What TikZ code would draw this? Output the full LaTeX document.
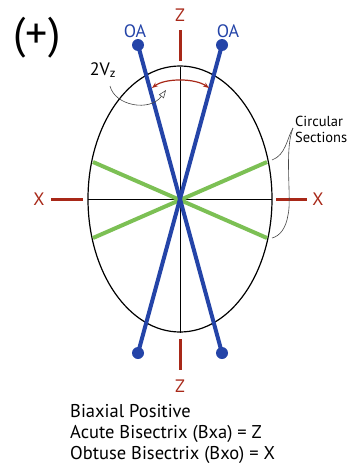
\documentclass[tikz,border=0pt]{standalone}
\usepackage{fontspec}
\setmainfont{PT Sans}
\usetikzlibrary{arrows.meta}
\definecolor{oablue}{RGB}{36,68,168}
\definecolor{axisred}{RGB}{168,40,24}
\definecolor{secgreen}{RGB}{124,192,84}
\definecolor{pointergray}{RGB}{70,70,70}

\begin{document}
\begin{tikzpicture}[x=1pt, y=-1pt,
  axisline/.style={axisred, line width=3pt},
  axislabel/.style={text=axisred, font=\fontsize{18}{18}\selectfont, inner sep=0pt},
  opticaxis/.style={oablue, line width=4pt},
  oadot/.style={circle, fill=oablue, inner sep=0pt, minimum size=12pt},
  oalabel/.style={text=oablue, font=\fontsize{18}{18}\selectfont, inner sep=0pt},
  circsection/.style={secgreen, line width=4pt},
  caption/.style={font=\fontsize{18.5}{18.5}\selectfont, inner sep=0pt, anchor=base west}]
  \useasboundingbox (0,0) rectangle (353,463);
  % Indicatrix outline and principal sections
  \coordinate (ctr) at (180,199);
  \draw[line width=1.2pt] (ctr) ellipse [x radius=92, y radius=133];
  \draw[line width=0.8pt] (180,67) -- (180,333);
  \draw[line width=0.8pt] (88,199) -- (272,199);
  % Circular sections
  \coordinate (cs1) at (93,162);
  \coordinate (cs2) at (267,238);
  \coordinate (cs3) at (93,238);
  \coordinate (cs4) at (267,162);
  \draw[circsection] (cs1) -- (cs2);
  \draw[circsection] (cs3) -- (cs4);
  % Optic axes
  \node[oadot] (oatl) at (138,45) {};
  \node[oadot] (oatr) at (222,45) {};
  \node[oadot] (oabl) at (138,353) {};
  \node[oadot] (oabr) at (222,353) {};
  \draw[opticaxis] (oatl.center) -- (oabr.center);
  \draw[opticaxis] (oatr.center) -- (oabl.center);
  \node[oalabel] (oal) at (135,31) {OA};
  \node[oalabel] (oar) at (228,31) {OA};
  % Z and X directions
  \draw[axisline] (180,30) -- (180,61);
  \draw[axisline] (180,339) -- (180,370);
  \draw[axisline] (51,199) -- (83,199);
  \draw[axisline] (276,199) -- (307,199);
  \node[axislabel] (zt) at (180,15) {Z};
  \node[axislabel] (zb) at (180,386) {Z};
  \node[axislabel] (xl) at (39,199) {X};
  \node[axislabel] (xr) at (318,199) {X};
  % 2Vz angle
  \coordinate (va) at (152,88);
  \coordinate (vb) at (209,88);
  \draw[axisred, line width=1.2pt, {Stealth[length=6pt]}-{Stealth[length=6pt]}]
    (va) .. controls (165,78) and (195,78) .. (vb);
  \node[font=\fontsize{18}{18}\selectfont, inner sep=0pt] (vlab) at (103,70) {2V$_\mathrm{z}$};
  \coordinate (vtip) at (166,90);
  \draw[pointergray, line width=0.6pt, -{Triangle[open, length=8pt, width=6pt]}]
    (110,86) .. controls (115,106) and (150,112) .. (vtip);
  % Circular sections label
  \node[font=\fontsize{14.5}{16}\selectfont, align=left, anchor=north west, inner sep=0pt]
    (cslab) at (295,116) {Circular\\Sections};
  \coordinate (brtip) at (293,128);
  \draw[pointergray, line width=0.6pt] (brtip) .. controls (287,138) and (286,155) .. (272,160);
  \draw[pointergray, line width=0.6pt] (brtip) .. controls (284,150) and (292,200) .. (288,215)
    .. controls (286,228) and (280,236) .. (272,238);
  % Sign and caption
  \node[font=\fontsize{44}{44}\selectfont, inner sep=0pt] (sign) at (37,38) {(+)};
  \node[caption] (cap1) at (70,417) {Biaxial Positive};
  \node[caption] (cap2) at (70,438) {Acute Bisectrix (Bxa) = Z};
  \node[caption] (cap3) at (70,459) {Obtuse Bisectrix (Bxo) = X};
\end{tikzpicture}
\end{document}
